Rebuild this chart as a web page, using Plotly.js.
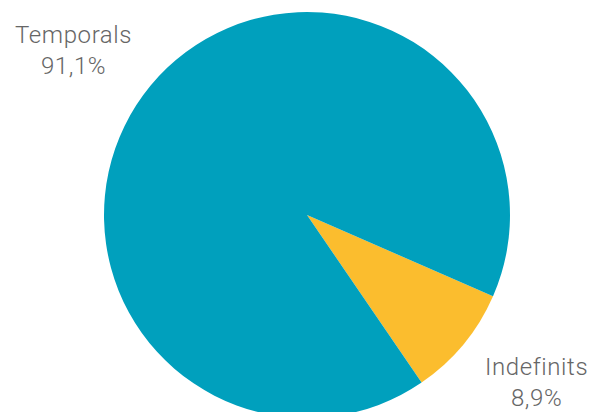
<!DOCTYPE html>
<html>
<head>
<meta charset="utf-8">
<script src="https://cdn.plot.ly/plotly-3.0.1.min.js"></script>
<style>
html,body{margin:0;padding:0;overflow:hidden;background:#fff;width:592px;height:412px;}
#chart{width:592px;height:418px;}
.annotation-text{letter-spacing:0.6px;}
</style>
</head>
<body>
<div id="chart"></div>
<script>
const categories = ["Indefinits", "Temporals"];
const values = [8.9, 91.1];
const colors = ["#FBBD2E", "#00A0BD"];
// label anchor positions (pixels) for the outside labels
const labelPx = [[536, 382], [73, 50]];

const W = 592, H = 418, T = 12;
const fmt = v => v.toFixed(1).replace('.', ',') + '%';

const annotations = categories.map((c, i) => ({
  text: c + '<br>' + fmt(values[i]),
  xref: 'paper', yref: 'paper',
  x: labelPx[i][0] / W,
  y: (H - labelPx[i][1]) / (H - T),
  xanchor: 'center', yanchor: 'middle',
  showarrow: false, align: 'center',
  font: {family: 'Roboto', size: 24, color: '#666666', weight: 300}
}));

Plotly.newPlot('chart', [{
  type: 'pie',
  labels: categories,
  values: values,
  marker: {colors: colors, line: {width: 0}},
  sort: false,
  direction: 'clockwise',
  rotation: 113.6,
  textinfo: 'none',
  hoverinfo: 'none',
  domain: {x: [22 / W, 1], y: [0, 1]}
}], {
  width: W, height: H,
  margin: {l: 0, r: 0, t: T, b: 0, pad: 0},
  showlegend: false,
  paper_bgcolor: '#ffffff',
  annotations: annotations
}, {displayModeBar: false, staticPlot: true});
</script>
</body>
</html>
